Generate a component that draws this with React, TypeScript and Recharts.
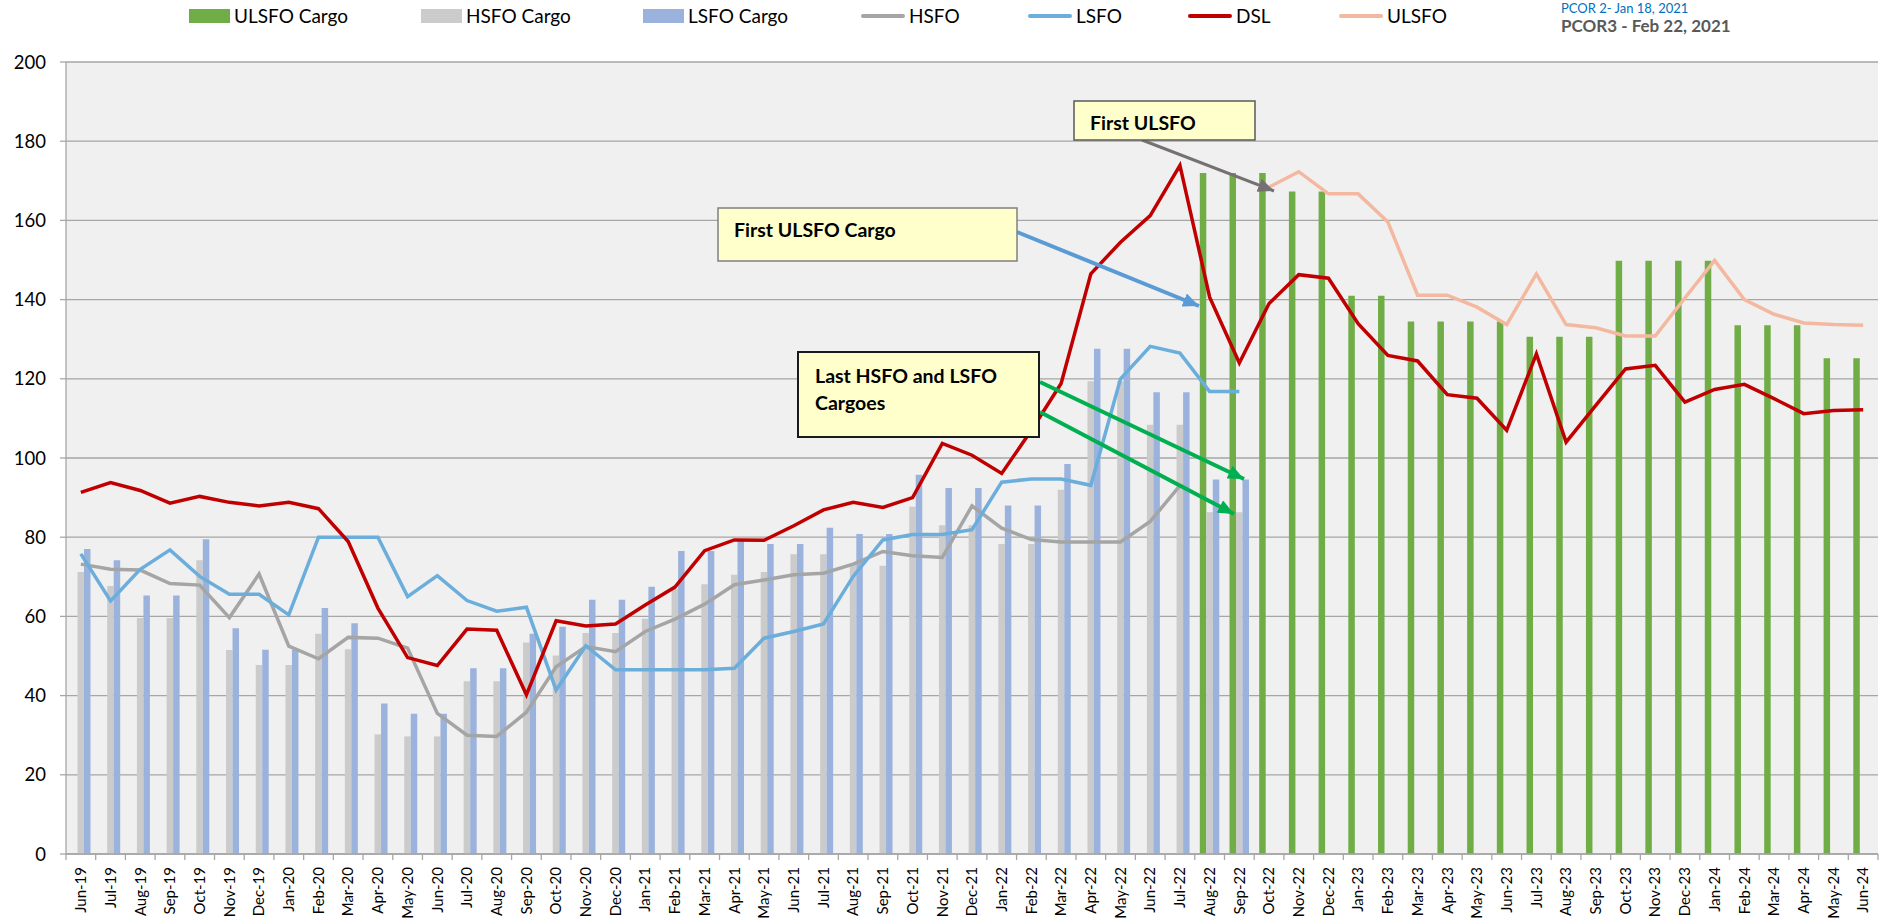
import React from "react";
import { Bar, CartesianGrid, ComposedChart, Line, XAxis, YAxis } from "recharts";

// months on the x axis
const months = [
  "Jun-19", "Jul-19", "Aug-19", "Sep-19", "Oct-19", "Nov-19", "Dec-19",
  "Jan-20", "Feb-20", "Mar-20", "Apr-20", "May-20", "Jun-20", "Jul-20", "Aug-20", "Sep-20", "Oct-20", "Nov-20", "Dec-20",
  "Jan-21", "Feb-21", "Mar-21", "Apr-21", "May-21", "Jun-21", "Jul-21", "Aug-21", "Sep-21", "Oct-21", "Nov-21", "Dec-21",
  "Jan-22", "Feb-22", "Mar-22", "Apr-22", "May-22", "Jun-22", "Jul-22", "Aug-22", "Sep-22", "Oct-22", "Nov-22", "Dec-22",
  "Jan-23", "Feb-23", "Mar-23", "Apr-23", "May-23", "Jun-23", "Jul-23", "Aug-23", "Sep-23", "Oct-23", "Nov-23", "Dec-23",
  "Jan-24", "Feb-24", "Mar-24", "Apr-24", "May-24", "Jun-24",
];

// cargo bars (Jun-19 .. Sep-22)
const hsfoCargo = [
  71.2, 67.7, 59.6, 59.6, 74.2, 51.5, 47.7, 47.7, 55.6, 51.7, 30.2, 29.7, 29.7, 43.6, 43.6, 53.4, 50.1, 55.8, 55.8,
  59.4, 67.0, 68.1, 70.5, 71.2, 75.7, 75.7, 73.0, 72.8, 87.7, 83.0, 83.0, 78.3, 78.3, 92.0, 119.4, 119.4, 108.4, 108.4,
  86.3, 86.3,
];
const lsfoCargo = [
  77.0, 74.2, 65.3, 65.3, 79.5, 57.0, 51.6, 51.6, 62.1, 58.3, 38.0, 35.4, 35.4, 46.9, 46.9, 55.6, 57.4, 64.2, 64.2,
  67.5, 76.5, 76.5, 79.1, 78.3, 78.3, 82.4, 80.8, 80.8, 95.8, 92.4, 92.4, 88.0, 88.0, 98.5, 127.6, 127.6, 116.6, 116.6,
  94.6, 94.6,
];
// ULSFO cargo bars start Aug-22
const ulsfoCargoStart = "Aug-22";
const ulsfoCargo = [
  172.0, 172.0, 172.0, 167.3, 167.3, 141.0, 141.0, 134.5, 134.5, 134.5, 134.5, 130.6, 130.6, 130.6,
  149.8, 149.8, 149.8, 149.8, 133.5, 133.5, 133.5, 125.2, 125.2,
];

// price lines
const hsfo = [
  73.2, 71.9, 71.7, 68.3, 67.9, 59.7, 70.7, 52.5, 49.3, 54.7, 54.5, 52.0, 35.5, 30.0, 29.7, 35.8, 47.3, 52.4, 51.1,
  56.2, 59.3, 63.1, 68.0, 69.2, 70.5, 70.9, 73.2, 76.4, 75.3, 74.9, 87.9, 82.3, 79.4, 78.8, 78.8, 78.8, 84.0, 93.0,
];
const lsfo = [
  75.8, 63.9, 71.9, 76.8, 70.1, 65.6, 65.6, 60.4, 80.0, 80.0, 80.0, 65.0, 70.3, 64.0, 61.3, 62.3, 41.4, 52.6, 46.5,
  46.5, 46.5, 46.5, 46.9, 54.5, 56.2, 58.1, 70.1, 79.3, 80.7, 80.7, 81.9, 93.9, 94.7, 94.7, 93.1, 120.0, 128.2, 126.5,
  116.8, 116.8,
];
const dsl = [
  91.3, 93.8, 91.8, 88.6, 90.3, 88.8, 87.9, 88.8, 87.2, 78.9, 62.1, 49.6, 47.6, 56.8, 56.5, 40.2, 58.9, 57.6, 58.1,
  62.9, 67.4, 76.6, 79.3, 79.2, 82.9, 86.9, 88.8, 87.5, 90.0, 103.7, 100.7, 96.1, 107.0, 118.8, 146.5, 154.5, 161.2,
  173.9, 140.6, 124.0, 139.0, 146.3, 145.4, 133.9, 125.9, 124.5, 116.0, 115.1, 107.0, 126.3, 104.0, 113.3, 122.5,
  123.4, 114.1, 117.3, 118.6, 115.0, 111.2, 112.0, 112.2,
];
// ULSFO price starts Oct-22
const ulsfoStart = "Oct-22";
const ulsfo = [
  168.4, 172.3, 166.7, 166.7, 159.6, 141.1, 141.1, 138.1, 133.7, 146.5, 133.7, 132.9, 130.8, 130.8, 140.4,
  149.9, 140.0, 136.3, 134.1, 133.7, 133.5,
];

const yTicks = [0, 20, 40, 60, 80, 100, 120, 140, 160, 180, 200];

const seriesNames = ["ULSFO Cargo", "HSFO Cargo", "LSFO Cargo", "HSFO", "LSFO", "DSL", "ULSFO"];
const seriesKinds = ["bar", "bar", "bar", "line", "line", "line", "line"];
const seriesColors = ["#70AD47", "#CBCBCB", "#9BB3DC", "#A5A5A5", "#6BADDB", "#C00000", "#F4B8A0"];

const notes = {
  pcor2: "PCOR 2- Jan 18, 2021",
  pcor3: "PCOR3 - Feb 22, 2021",
  firstUlsfo: "First ULSFO",
  firstCargo: "First ULSFO Cargo",
  lastCargo: ["Last HSFO and LSFO", "Cargoes"],
};

const at = (arr: number[], i: number) => (i >= 0 && i < arr.length ? arr[i] : null);

const rows = months.map((month, i) => ({
  month,
  ulsfoCargo: at(ulsfoCargo, i - months.indexOf(ulsfoCargoStart)),
  hsfoCargo: at(hsfoCargo, i),
  lsfoCargo: at(lsfoCargo, i),
  hsfo: at(hsfo, i),
  lsfo: at(lsfo, i),
  dsl: at(dsl, i),
  ulsfo: at(ulsfo, i - months.indexOf(ulsfoStart)),
}));

const W = 1880;
const H = 921;
const MARGIN = { top: 62, right: 2, bottom: 7, left: 8 };
const Y_W = 58;
const BAND = (W - MARGIN.left - MARGIN.right - Y_W) / months.length;
const AXIS = "#A6A6A6";
const FONT = "Lato, 'Noto Sans', sans-serif";

function MonthTick(props: any) {
  const { x, y, payload } = props;
  const idx = payload?.index ?? props.index;
  const half = BAND / 2;
  const ty = y + 13;
  return (
    <g>
      <line x1={x - half} x2={x - half} y1={y} y2={y + 6} stroke={AXIS} strokeWidth={1.3} />
      {idx === months.length - 1 && (
        <line x1={x + half} x2={x + half} y1={y} y2={y + 6} stroke={AXIS} strokeWidth={1.3} />
      )}
      <text
        x={x}
        y={ty}
        transform={`rotate(-90 ${x} ${ty})`}
        textAnchor="end"
        dy="0.35em"
        fontSize={15}
        fill="#000"
      >
        {payload.value}
      </text>
    </g>
  );
}

function Overlay() {
  const swX = [189, 421, 643, 861, 1028, 1188, 1339];
  return (
    <svg width={W} height={H} style={{ position: "absolute", left: 0, top: 0, pointerEvents: "none" }}>
      <defs>
        {[
          ["ahGray", "#767171"],
          ["ahBlue", "#5B9BD5"],
          ["ahGreen", "#00B050"],
        ].map(([id, c]) => (
          <marker
            key={id}
            id={id}
            markerUnits="userSpaceOnUse"
            markerWidth={16}
            markerHeight={14}
            refX={16}
            refY={7}
            orient="auto"
          >
            <path d="M0,0 L16,7 L0,14 z" fill={c} />
          </marker>
        ))}
      </defs>

      {/* legend */}
      {seriesNames.map((name, i) => {
        const x = swX[i];
        const bar = seriesKinds[i] === "bar";
        const w = bar ? 41 : 44;
        return (
          <g key={name}>
            {bar ? (
              <rect x={x} y={9} width={w} height={14} fill={seriesColors[i]} />
            ) : (
              <line x1={x + 2} x2={x + w - 2} y1={16} y2={16} stroke={seriesColors[i]} strokeWidth={4} strokeLinecap="round" />
            )}
            <text x={x + w + 4} y={16} dy="0.35em" fontSize={19} fill="#000">
              {name}
            </text>
          </g>
        );
      })}
      <text x={1561} y={8} dy="0.35em" fontSize={13} fill="#0070C0">
        {notes.pcor2}
      </text>
      <text x={1561} y={26} dy="0.35em" fontSize={17} fontWeight="bold" fill="#595959">
        {notes.pcor3}
      </text>

      {/* annotations */}
      <line x1={1142} y1={140} x2={1274} y2={191} stroke="#767171" strokeWidth={3} markerEnd="url(#ahGray)" />
      <rect x={1074} y={101} width={181} height={39} fill="#FFFFCC" stroke="#595959" strokeWidth={1.5} />
      <text x={1090} y={130} fontSize={19.5} fontWeight="bold" fill="#000">
        {notes.firstUlsfo}
      </text>

      <line x1={1017} y1={232} x2={1199} y2={306} stroke="#5B9BD5" strokeWidth={4} markerEnd="url(#ahBlue)" />
      <rect x={718} y={208} width={299} height={53} fill="#FFFFCC" stroke="#7F7F7F" strokeWidth={1.5} />
      <text x={734} y={237} fontSize={19.5} fontWeight="bold" fill="#000">
        {notes.firstCargo}
      </text>

      <line x1={1040} y1={382} x2={1244} y2={479} stroke="#00B050" strokeWidth={4} markerEnd="url(#ahGreen)" />
      <line x1={1040} y1={412} x2={1234} y2={514} stroke="#00B050" strokeWidth={4} markerEnd="url(#ahGreen)" />
      <rect x={798} y={352} width={241} height={85} fill="#FFFFCC" stroke="#1A1A1A" strokeWidth={2} />
      <text x={815} y={383} fontSize={19.5} fontWeight="bold" fill="#000">
        {notes.lastCargo[0]}
      </text>
      <text x={815} y={410} fontSize={19.5} fontWeight="bold" fill="#000">
        {notes.lastCargo[1]}
      </text>
    </svg>
  );
}

export default function App() {
  return (
    <div
      style={{
        position: "absolute",
        left: 0,
        top: 0,
        width: W,
        height: H,
        background: "#fff",
        fontFamily: FONT,
      }}
    >
      <ComposedChart width={W} height={H} data={rows} margin={MARGIN} barGap={0}>
        <CartesianGrid vertical={false} stroke={AXIS} strokeWidth={1.3} fill="#F0F0F0" fillOpacity={1} />
        <XAxis
          dataKey="month"
          interval={0}
          height={60}
          tickSize={0}
          tickMargin={0}
          tickLine={false}
          axisLine={{ stroke: AXIS, strokeWidth: 1.3 }}
          tick={<MonthTick />}
        />
        <YAxis
          domain={[0, 200]}
          ticks={yTicks}
          width={Y_W}
          tickSize={6}
          tickMargin={14}
          axisLine={{ stroke: AXIS, strokeWidth: 1.3 }}
          tickLine={{ stroke: AXIS, strokeWidth: 1.3 }}
          tick={{ fontSize: 18.5, fill: "#000" }}
        />
        <Bar dataKey="ulsfoCargo" name="ULSFO Cargo" fill={seriesColors[0]} barSize={6.5} isAnimationActive={false} />
        <Bar dataKey="hsfoCargo" name="HSFO Cargo" fill={seriesColors[1]} barSize={6.5} isAnimationActive={false} />
        <Bar dataKey="lsfoCargo" name="LSFO Cargo" fill={seriesColors[2]} barSize={6.5} isAnimationActive={false} />
        <Line dataKey="hsfo" name="HSFO" stroke={seriesColors[3]} strokeWidth={3.5} dot={false} activeDot={false} isAnimationActive={false} />
        <Line dataKey="lsfo" name="LSFO" stroke={seriesColors[4]} strokeWidth={3.5} dot={false} activeDot={false} isAnimationActive={false} />
        <Line dataKey="dsl" name="DSL" stroke={seriesColors[5]} strokeWidth={3.5} dot={false} activeDot={false} isAnimationActive={false} />
        <Line dataKey="ulsfo" name="ULSFO" stroke={seriesColors[6]} strokeWidth={3.5} dot={false} activeDot={false} isAnimationActive={false} />
      </ComposedChart>
      <Overlay />
    </div>
  );
}
